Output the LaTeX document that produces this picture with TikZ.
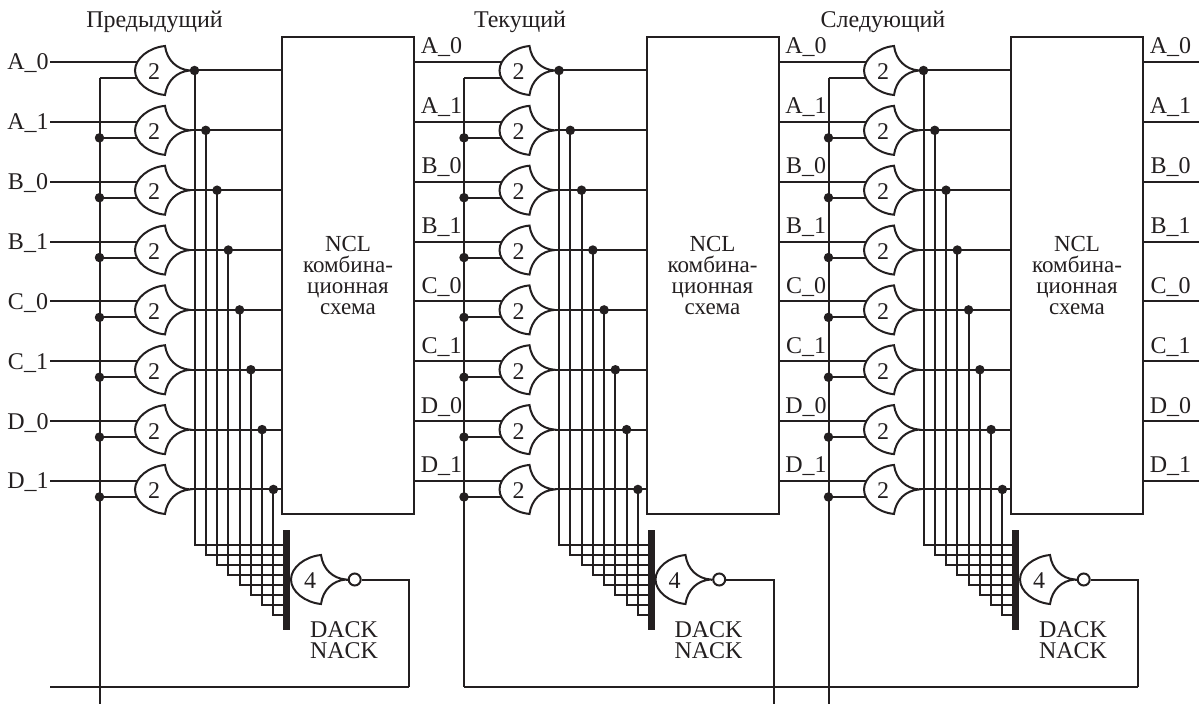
\documentclass[tikz,border=0pt]{standalone}
\usepackage{fontspec}
\setmainfont{Liberation Serif}
\definecolor{ink}{HTML}{231F20}
\tikzset{
    wire/.style={line width=2pt,line join=miter},
    dotnode/.style={circle,fill=ink,draw=none,inner sep=0pt,minimum size=9.5pt},
    bubble/.style={circle,draw=ink,line width=2pt,fill=white,inner sep=0pt,minimum size=12pt},
    lbl/.style={inner sep=0pt,anchor=base,font=\fontsize{24}{24}\selectfont},
    blockbox/.style={draw=ink,line width=2pt,minimum width=132pt,minimum height=477pt,inner sep=0pt,
        align=center,font=\fontsize{23}{21}\selectfont},
    pics/orgate/.style={code={
        \draw[wire] (30,-24.5) .. controls (14,-23) and (0,-12) .. (0,0)
            .. controls (0,12) and (14,23) .. (30,24.5)
            .. controls (32,10) and (42,1) .. (55,0)
            .. controls (42,-1) and (32,-10) .. (30,-24.5) -- cycle;
        \node[lbl,anchor=center] (-num) at (19,1.5) {#1};
        \coordinate (-inone) at (1.5,-8.5);
        \coordinate (-intwo) at (1.5,7.5);
        \coordinate (-out) at (55,0);
    }}
}

\begin{document}
\begin{tikzpicture}[x=1pt,y=-1pt,color=ink]
    \useasboundingbox (0,0) rectangle (1199,709);

    % one stage, repeated three times
    \foreach \s/\sx/\railend/\ackend in {a/0/704/687,b/364.5/687/704,c/729/704/687}{
        \begin{scope}[shift={(\sx,0)}]
            \node[blockbox] (blk\s) at (348,275.5) {NCL\\комбина-\\ционная\\схема};
            \coordinate (railend\s) at (99.5,\railend);

            \foreach \i/\sig [evaluate=\i as \y using 70.5+59.85*\i,
                              evaluate=\i as \tapx using 194.5+11.27*\i,
                              evaluate=\i as \tapy using 545+9.93*\i]
                in {0/A\_0,1/A\_1,2/B\_0,3/B\_1,4/C\_0,5/C\_1,6/D\_0,7/D\_1}{
                \pic (gate\s\i) at (135,\y) {orgate={2}};
                \coordinate (src\s\i) at (50,\y-8.5);
                \coordinate (rail\s\i) at (99.5,\y+7.5);
                \node[dotnode] (tap\s\i) at (\tapx,\y) {};
                \coordinate (bus\s\i) at (286.7,\tapy);
                \draw[wire] (src\s\i) -- (gate\s\i-inone);
                \draw[wire] (rail\s\i) -- (gate\s\i-intwo);
                \draw[wire] (gate\s\i-out) -- (tap\s\i.center) -- (tap\s\i -| blk\s.west);
                \draw[wire] (tap\s\i.center) |- (bus\s\i);
                % output name of the block
                \node[lbl] (name\s\i) at (441.5,\y-16.5) {\sig};
            }
            \draw[wire] (rail\s0) -- (railend\s);
            \foreach \i in {1,...,7}{
                \node[dotnode] (raildot\s\i) at (rail\s\i) {};
            }

            % ack gate
            \coordinate (bartop\s) at (286.7,530);
            \coordinate (barbot\s) at (286.7,630);
            \draw[line width=7pt] (bartop\s) -- (barbot\s);
            \pic (ack\s) at (291,579.5) {orgate={4}};
            \node[bubble] (inv\s) at (354.7,579.5) {};
            \draw[wire] (ack\s-out) -- (inv\s);
            \coordinate (ackend\s) at (409,\ackend);
            \draw[wire] (inv\s) -| (ackend\s);
            \node[lbl,align=center,font=\fontsize{24}{21}\selectfont,anchor=center] (ackname\s) at (344,640.5) {DACK\\NACK};
        \end{scope}
    }

    % input names of the first stage
    \foreach \i/\sig [evaluate=\i as \y using 70+59.85*\i]
        in {0/A\_0,1/A\_1,2/B\_0,3/B\_1,4/C\_0,5/C\_1,6/D\_0,7/D\_1}{
        \node[lbl] (inname\i) at (28,\y) {\sig};
    }

    % outputs of the last block
    \foreach \i [evaluate=\i as \y using 62+59.85*\i] in {0,...,7}{
        \coordinate (last\i) at (1199,\y);
        \draw[wire] (blkc.east |- last\i) -- (last\i);
    }

    % feedback lines
    \coordinate (fbstart) at (50,687);
    \draw[wire] (fbstart) -- (ackenda);
    \draw[wire] (railendb) -- (ackendc);

    \node[lbl,anchor=center] (prevname) at (154.5,22) {Предыдущий};
    \node[lbl,anchor=center] (curname) at (520,22) {Текущий};
    \node[lbl,anchor=center] (nextname) at (883,22) {Следующий};
\end{tikzpicture}
\end{document}
